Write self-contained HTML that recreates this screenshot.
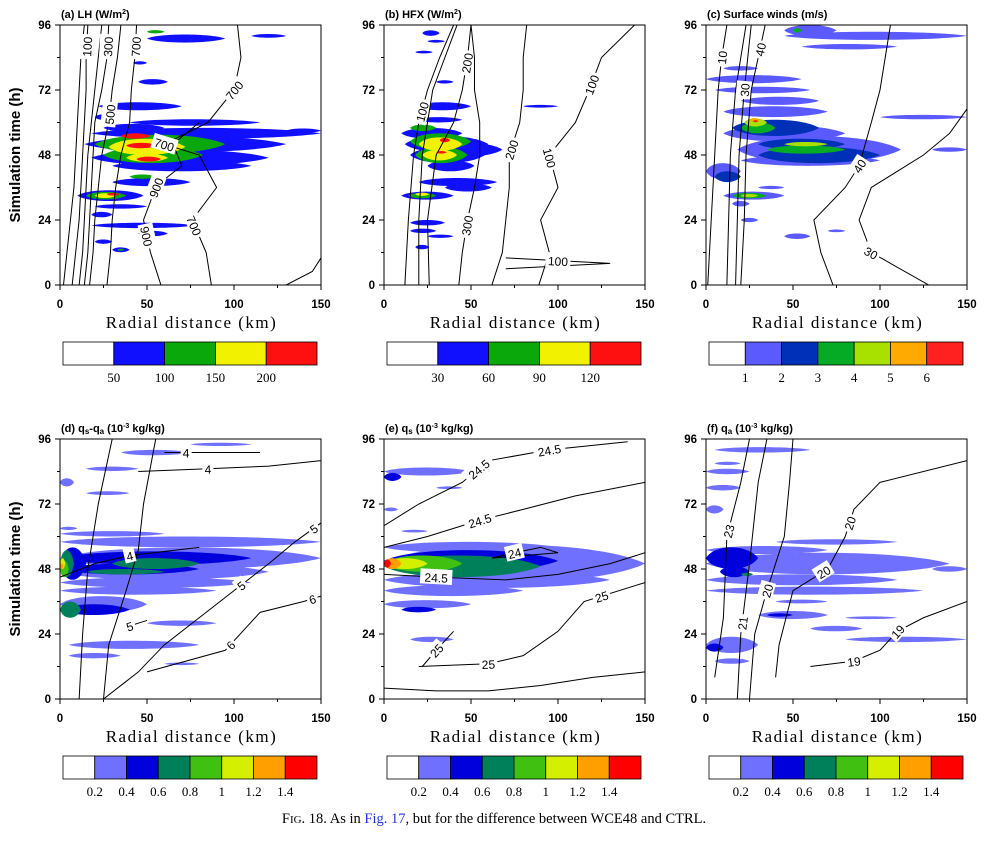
<!DOCTYPE html>
<html><head><meta charset="utf-8">
<style>
html,body{margin:0;padding:0;background:#fff;}
svg{display:block;}
.tt{font-family:"Liberation Sans",sans-serif;font-weight:bold;font-size:11px;}
.tk{font-family:"Liberation Sans",sans-serif;font-weight:bold;font-size:11.5px;}
.xl{font-family:"Liberation Serif",serif;font-size:17px;letter-spacing:1.5px;}
.cb{font-family:"Liberation Serif",serif;font-size:13px;}
.cl{font-family:"Liberation Sans",sans-serif;font-size:12px;}
</style></head><body>
<svg id="fig" width="988" height="846" viewBox="0 0 988 846" xmlns="http://www.w3.org/2000/svg">
<g id="root"></g>
<text x="494" y="823" text-anchor="middle" font-family="Liberation Serif, serif" font-size="14.5">F<tspan font-size="11">IG</tspan>. 18. As in <tspan fill="#2233dd">Fig. 17</tspan>, but for the difference between WCE48 and CTRL.</text>
</svg>
<script>
// ---------- data ----------
const xTicks=[0,50,100,150];
const yTicks=[0,24,48,72,96];
const colorsLH=["#ffffff","#1010ff","#0aa80a","#f2f200","#ff1010"];
const labelsLH=["50","100","150","200"];
const labelsHFX=["30","60","90","120"];
const colorsWind=["#ffffff","#5a5aff","#0030b8","#05aa25","#a8e000","#ffaa00","#ff2020"];
const labelsWind=["1","2","3","4","5","6"];
const colorsQ=["#ffffff","#7070ff","#0000dd","#00805a","#40c010","#d4f000","#ffa000","#ff0000"];
const labelsQ=["0.2","0.4","0.6","0.8","1","1.2","1.4"];
// streaks: [time(h), r0(km), r1(km), halfwidth(h), level]
const streaksA=[[56,18,150,2,1],[52,14,130,3,1],[47,18,120,3,1],[44,30,110,2,1],[60,40,115,1.2,1],[58,25,60,1.5,1],
[52,20,95,3.5,2],[48,25,82,3,2],[51,28,72,3,3],[47,38,62,1.5,3],[55,35,52,1,4],[51.5,38,56,1,4],[46.5,44,58,0.9,4],
[38,30,75,1.5,1],[40,40,55,0.8,2],[33,10,48,2,1],[33,15,38,1.4,2],[33,20,32,0.9,3],[33.5,27,34,0.5,4],
[66,22,70,1.5,1],[62,20,30,1,1],[75,45,62,1,1],[91,50,95,1.5,1],[93.5,50,60,0.6,2],[92,110,130,0.7,1],[82,42,50,0.6,1],
[22,18,78,1,1],[19,45,62,1,1],[19,48,55,0.5,2],[26,18,30,1,1],[16,20,30,0.8,1],[13,30,40,0.9,1],[13,33,37,0.4,2],[29,20,50,0.8,1],[57,130,150,0.8,1]];
const streaksB=[[56,10,45,2,1],[52,12,60,3,1],[48,15,58,3,1],[44,25,52,2,1],[50,30,68,2.5,1],[38,20,65,1.5,1],[36,35,62,1.5,1],
[53,15,50,3,2],[48,18,48,3,2],[52,20,45,2.5,3],[48,22,42,2,3],[53.5,32,38,0.8,4],[49,30,36,0.5,4],[58,15,30,1.2,2],
[33,10,40,1.5,1],[33,14,30,1,2],[33.5,18,26,0.6,3],[66,18,50,1.5,1],[61,18,45,1,1],[23,15,35,1,1],[20,15,30,0.8,1],[18,25,40,0.6,1],[14,18,26,0.8,1],
[93,22,32,1,1],[90,25,35,0.5,1],[86,18,28,0.5,1],[75,30,40,0.6,1],[66,80,100,0.5,1]];
const streaksC=[[50,18,112,5,1],[46,20,100,2,1],[56,10,80,3,1],[64,10,70,2,1],[68,20,65,1.5,1],[72,5,60,1.2,1],[76,0,55,1.5,1],[80,10,30,0.8,1],
[48,30,100,3,2],[52,30,80,2,2],[58,15,65,3,2],[50,35,80,1.5,3],[58,20,40,2,3],[60,22,35,1.5,4],[52,45,70,0.8,4],[61,25,31,0.6,5],[60.5,27,30,0.4,6],
[42,0,20,3,1],[40,5,20,2,2],[33,10,45,1.5,1],[33,15,35,1,3],[33,20,30,0.6,4],[30,15,25,1,1],[92,45,150,1.5,1],[94,45,75,2,1],[94,50,55,0.8,3],[88,55,110,1,1],
[50,130,150,0.8,1],[62,100,150,0.8,1],[18,45,60,1,1],[24,20,30,0.8,1],[36,30,45,0.6,1],[20,70,80,0.5,1]];
const streaksD=[[52,0,150,4,1],[47,0,120,3,1],[43,0,110,2,1],[40,0,90,1.5,1],[58,0,150,2,1],[61,0,60,1,1],[35,0,50,3,1],[33,0,40,2,2],
[52,0,110,2.5,2],[48,0,80,2,2],[50,0,15,6,2],[33,0,12,3,3],[50,0,8,5,3],[50,30,80,2,3],[47,15,60,1,3],[48,0,5,3,4],[50,0,3,2,5],[49,0,2,1,6],
[28,50,90,1,1],[20,5,80,1.5,1],[16,5,35,1,1],[13,60,80,0.5,1],[85,15,45,0.8,1],[91,35,75,1,1],[94,75,110,0.6,1],[80,0,8,1.5,1],[76,15,40,0.7,1],[63,0,10,0.6,1]];
const streaksE=[[50,0,150,7,1],[44,0,130,3,1],[40,0,80,2,1],[56,0,100,2,1],[51,0,100,4,2],[49,0,90,4,3],[50,0,45,3,4],[50,0,25,2,5],[50,0,10,2,6],[50,0,4,1.5,7],
[35,0,50,1.5,1],[33,10,30,1,2],[22,15,40,1,1],[84,0,50,1.5,1],[82,0,10,1.5,2],[78,30,45,0.5,1],[70,0,8,0.7,1],[62,10,25,0.5,1]];
const streaksF=[[50,0,140,4,1],[44,0,110,2,1],[40,0,125,1.5,1],[55,0,70,1.5,1],[58,40,110,1,1],[52,0,30,4,2],[47,8,25,2,2],[46,20,27,0.6,3],
[31,30,70,1.5,1],[31,35,50,0.6,2],[20,0,30,3,1],[19,0,10,1.5,2],[14,5,25,1,1],[26,60,90,1,1],[22,80,150,1,1],[92,5,60,1,1],[87,5,20,0.6,1],[84,0,25,1,1],[78,0,20,1,1],
[70,0,10,1.5,1],[48,130,150,1,1],[36,40,70,0.7,1],[30,80,110,0.5,1]];
// contours: times (h), radii (km), value label, label times
const contA=[
 {t:[0,12,24,36,48,60,72,84,96],r:[2,4,6,8,9,10,11,12,14],v:"",lt:[]},
 {t:[0,12,24,36,48,60,72,84,96],r:[7,9,11,12,13,14,15,15,16],v:"100",lt:[88]},
 {t:[0,12,24,36,48,60,72,84,96],r:[11,13,14,15,16,18,20,22,24],v:"",lt:[]},
 {t:[0,12,24,36,48,60,72,84,96],r:[14,16,17,18,19,20,24,27,28],v:"300",lt:[88]},
 {t:[0,12,24,36,48,60,72,84,96],r:[17,19,20,22,24,28,30,33,35],v:"500",lt:[63]},
 {t:[0,12,24,36,48,60,72,84,96],r:[27,29,30,32,35,40,41,43,44],v:"700",lt:[88]},
 {t:[0,12,24,36,40,44,52,60],r:[58,52,48,55,62,70,65,80],v:"900",lt:[18,36]},
 {t:[0,12,24,36,48,52,60,72,84,96],r:[87,84,76,90,80,60,85,100,104,102],v:"700",lt:[22,52,72]},
 {t:[0,5,10],r:[130,145,150],v:"",lt:[]}];
const contB=[
 {t:[0,24,48,60,72,84,96],r:[12,14,17,20,25,32,40],v:"100",lt:[64]},
 {t:[0,24,48,60,72,84,96],r:[20,20,22,25,28,35,42],v:"",lt:[]},
 {t:[0,24,48,60,72,84,96],r:[26,25,30,40,45,48,50],v:"200",lt:[82]},
 {t:[0,12,24,36,48,60,72,84,96],r:[43,45,48,52,55,55,52,52,50],v:"300",lt:[22]},
 {t:[0,12,24,36,48,60,72,84,96],r:[62,68,70,72,72,78,80,80,82],v:"200",lt:[50]},
 {t:[0,12,24,36,48,60,72,84,96],r:[89,95,90,100,95,110,118,125,144],v:"100",lt:[47,74]},
 {t:[6,8,10],r:[70,130,70],v:"100",lt:[9]}];
const contC=[
 {t:[0,24,48,72,84,96],r:[1,3,5,7,9,12],v:"10",lt:[84]},
 {t:[0,24,48,72,96],r:[12,13,14,17,23],v:"",lt:[]},
 {t:[0,24,48,72,96],r:[17,18,19,22,26],v:"30",lt:[72]},
 {t:[0,24,48,72,96],r:[20,22,23,26,34],v:"40",lt:[87]},
 {t:[0,12,24,36,44,60,72,84,96],r:[73,66,62,80,88,95,100,103,106],v:"40",lt:[44]},
 {t:[0,12,24,36,48,56,65],r:[128,95,88,95,125,140,150],v:"30",lt:[12]}];
const contD=[
 {t:[0,24,48,72,96],r:[11,13,16,22,30],v:"",lt:[]},
 {t:[0,20,40,55,72,96],r:[25,28,38,45,48,55],v:"",lt:[]},
 {t:[0,10,20,30,40,50,58,65],r:[25,45,60,80,100,120,135,150],v:"5",lt:[42,63]},
 {t:[10,18,25,32,36,38],r:[50,95,105,115,140,150],v:"6",lt:[20,37]},
 {t:[45,50,53,56],r:[0,20,40,80],v:"4",lt:[53]},
 {t:[84,85,86,88],r:[45,85,120,150],v:"4",lt:[85]},
 {t:[91,91,91],r:[60,85,115],v:"4",lt:[91]},
 {t:[27,28,29],r:[40,45,50],v:"5",lt:[27]}];
const contE=[
 {t:[4,3,3,5,8,10],r:[0,30,60,90,120,150],v:"",lt:[]},
 {t:[12,13,16,25,36,43],r:[20,60,80,100,115,150],v:"25",lt:[13,38]},
 {t:[25,18,12],r:[40,30,22],v:"25",lt:[18]},
 {t:[46,45,44,46,50,54],r:[0,30,70,100,130,150],v:"24.5",lt:[45]},
 {t:[52,54,56,54,52],r:[62,75,90,100,62],v:"24",lt:[54]},
 {t:[56,60,66,70,75,80],r:[0,25,55,80,110,150],v:"24.5",lt:[53,66]},
 {t:[64,72,80,88,92,95],r:[0,20,45,60,95,140],v:"24.5",lt:[85,92]}];
const contF=[
 {t:[8,30,60,80,96],r:[5,10,12,20,25],v:"23",lt:[62]},
 {t:[0,24,50,80,96],r:[18,20,25,30,35],v:"21",lt:[28]},
 {t:[0,24,40,60,80,96],r:[25,28,35,45,48,50],v:"20",lt:[40]},
 {t:[8,20,40,48,60,70,80,88,96],r:[40,42,50,70,80,85,100,150,150],v:"20",lt:[47,65]},
 {t:[12,14,18,25,30,36],r:[60,85,100,110,125,150],v:"19",lt:[14,25]}];

// ---------- drawing ----------
const NS="http://www.w3.org/2000/svg";
const root=document.getElementById('root');
function mk(tag,attrs,parent){const e=document.createElementNS(NS,tag);for(const k in attrs)e.setAttribute(k,attrs[k]);(parent||root).appendChild(e);return e;}
const W=261,H=260;
function panel(px,py,key,titleHtml,streaks,conts,colors,labels,cby){
  const xs=r=>px+r/150*W, ys=t=>py+H-t/96*H;
  const g=mk('g',{});
  
  
  const cp=mk('clipPath',{id:'cp'+key},g);
  mk('rect',{x:px,y:py,width:W,height:H},cp);
  const sg=mk('g',{'clip-path':'url(#cp'+key+')'},g);
  const levels=Math.max(...streaks.map(s=>s[4]));
  for(let lv=1;lv<=levels;lv++){
    streaks.filter(s=>s[4]===lv).forEach(s=>{
      const x0=xs(s[1]),x1=xs(s[2]),yc=ys(s[0]),hh=s[3]/96*H*1.33,w=x1-x0;
      const d=`M${x0},${yc} C${x0+w*0.15},${yc-hh} ${x1-w*0.2},${yc-hh} ${x1},${yc} C${x1-w*0.2},${yc+hh} ${x0+w*0.15},${yc+hh} ${x0},${yc}Z`;
      const p=mk('path',{d:d,fill:colors[lv]},sg);
      
      
    });
  }
  conts.forEach(c=>{
    const pts=c.t.map((t,i)=>[xs(c.r[i]),ys(t)]);
    const l=mk('polyline',{points:pts.map(p=>p.join(',')).join(' '),fill:'none',stroke:'#000','stroke-width':1},sg);
    
    
    c.lt.forEach(lt=>{
      let k=0;for(let i=0;i<c.t.length-1;i++){if((c.t[i]-lt)*(c.t[i+1]-lt)<=0){k=i;break;}}
      const t0=c.t[k],t1=c.t[k+1];const f=t1===t0?0.5:(lt-t0)/(t1-t0);
      const r=c.r[k]+(c.r[k+1]-c.r[k])*f;
      const X=xs(r),Y=ys(lt);
      let ang=Math.atan2(ys(t1)-ys(t0),xs(c.r[k+1])-xs(c.r[k]))*180/Math.PI;
      if(ang>90)ang-=180;if(ang<-90)ang+=180;
      const lg=mk('g',{transform:`translate(${X},${Y}) rotate(${ang})`},sg);
      const w=c.v.length*7+4;
      mk('rect',{x:-w/2,y:-8,width:w,height:15,fill:'#fff'},lg);
      const tx=mk('text',{x:0,y:5,'text-anchor':'middle',class:'cl'},lg);
      
      
      tx.textContent=c.v;
    });
  });
  const fr=mk('rect',{x:px,y:py,width:W,height:H,fill:'none',stroke:'#000','stroke-width':1},g);
  
  
  xTicks.forEach(v=>{
    mk('line',{x1:xs(v),x2:xs(v),y1:py+H,y2:py+H+5,stroke:'#000'},g);
    const t=mk('text',{x:xs(v),y:py+H+23,'text-anchor':'middle',class:'tk'},g);
    
    
    t.textContent=v;
  });
  for(let v=0;v<=150;v+=25){mk('line',{x1:xs(v),x2:xs(v),y1:py+H,y2:py+H+3,stroke:'#000'},g);}
  yTicks.forEach(v=>{
    mk('line',{x1:px-5,x2:px,y1:ys(v),y2:ys(v),stroke:'#000'},g);
    const t=mk('text',{x:px-9,y:ys(v)+4,'text-anchor':'end',class:'tk'},g);
    
    
    t.textContent=v;
  });
  for(let v=0;v<=96;v+=12){mk('line',{x1:px-3,x2:px,y1:ys(v),y2:ys(v),stroke:'#000'},g);}
  const ti=mk('text',{x:px+1,y:py-7,class:'tt'},g);
  
  
  ti.innerHTML=titleHtml;
  const xl=mk('text',{x:px+W/2+1,y:py+H+43,'text-anchor':'middle',class:'xl'},g);
  
  
  xl.textContent='Radial distance (km)';
  if(px<100){
    const yl=mk('text',{x:0,y:0,transform:`translate(${px-40},${py+H/2}) rotate(-90)`,'text-anchor':'middle',style:'font-family:"Liberation Sans",sans-serif;font-weight:bold;font-size:15px'},g);
    
    
    yl.textContent='Simulation time (h)';
  }
  // colorbar
  const cbx=px+3,cbw=254,n=colors.length,bw=cbw/n;
  const cg=mk('g',{},g);
  
  
  colors.forEach((c,i)=>{
    const b=mk('rect',{x:cbx+i*bw,y:cby,width:bw,height:23,fill:c,stroke:'#000','stroke-width':0.8},cg);
    
    
  });
  labels.forEach((lab,i)=>{
    const t=mk('text',{x:cbx+(i+1)*bw,y:cby+40,'text-anchor':'middle',class:'cb'},cg);
    
    
    t.textContent=lab;
  });
}
const sub=(s)=>`<tspan font-size="8" baseline-shift="-2">${s}</tspan>`;
const sup=(s)=>`<tspan font-size="7" baseline-shift="4">${s}</tspan>`;
panel(60,25,'a','(a) LH (W/m'+sup('2')+')',streaksA,contA,colorsLH,labelsLH,342);
panel(384,25,'b','(b) HFX (W/m'+sup('2')+')',streaksB,contB,colorsLH,labelsHFX,342);
panel(706,25,'c','(c) Surface winds (m/s)',streaksC,contC,colorsWind,labelsWind,342);
panel(60,439,'d','(d) q'+sub('s')+'-q'+sub('a')+' (10'+sup('-3')+' kg/kg)',streaksD,contD,colorsQ,labelsQ,756);
panel(384,439,'e','(e) q'+sub('s')+' (10'+sup('-3')+' kg/kg)',streaksE,contE,colorsQ,labelsQ,756);
panel(706,439,'f','(f) q'+sub('a')+' (10'+sup('-3')+' kg/kg)',streaksF,contF,colorsQ,labelsQ,756);
</script>
</body></html>
